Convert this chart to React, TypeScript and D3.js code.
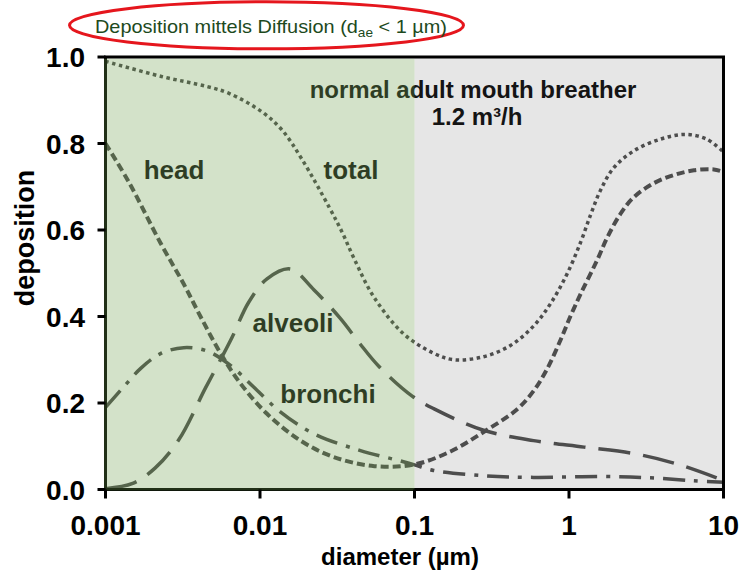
import React, { useEffect, useRef } from 'react';
import * as d3 from 'd3';

// diameters in µm, deposition fractions
const totalD = [0.001, 0.0023, 0.0045, 0.0063, 0.0103, 0.0139, 0.0188, 0.028, 0.034, 0.0405, 0.0546, 0.085, 0.133, 0.18, 0.28, 0.418, 0.59, 0.76, 0.97, 1.19, 1.38, 1.6, 1.95, 2.63, 3.9, 5.68, 7.8, 10];
const totalV = [0.99, 0.955, 0.932, 0.916, 0.873, 0.831, 0.762, 0.653, 0.595, 0.535, 0.445, 0.36, 0.315, 0.3, 0.307, 0.333, 0.378, 0.43, 0.498, 0.572, 0.635, 0.692, 0.744, 0.783, 0.81, 0.821, 0.81, 0.78];

const headD = [0.001, 0.00142, 0.00227, 0.00321, 0.00412, 0.00555, 0.00748, 0.0111, 0.0183, 0.03, 0.055, 0.1, 0.171, 0.28, 0.46, 0.59, 0.72, 0.88, 1.02, 1.2, 1.52, 1.77, 2.15, 2.63, 3.53, 4.77, 6.43, 8.65, 10];
const headV = [0.8, 0.71, 0.57, 0.475, 0.4, 0.315, 0.245, 0.175, 0.113, 0.075, 0.054, 0.058, 0.088, 0.133, 0.185, 0.228, 0.278, 0.345, 0.4, 0.455, 0.53, 0.583, 0.637, 0.676, 0.708, 0.727, 0.738, 0.74, 0.734];

const alveoliD = [0.001, 0.0015, 0.0021, 0.00298, 0.00444, 0.00555, 0.0066, 0.00845, 0.0111, 0.0157, 0.0223, 0.0332, 0.0437, 0.0587, 0.0966, 0.133, 0.28, 0.59, 1.25, 2.63, 5.0, 10];
const alveoliV = [0.002, 0.014, 0.05, 0.115, 0.235, 0.3, 0.352, 0.433, 0.487, 0.51, 0.462, 0.395, 0.34, 0.285, 0.216, 0.187, 0.137, 0.113, 0.098, 0.083, 0.059, 0.021];

const bronchiD = [0.001, 0.00131, 0.00169, 0.00227, 0.00321, 0.00455, 0.00644, 0.0091, 0.0136, 0.0223, 0.0447, 0.081, 0.1, 0.133, 0.28, 0.59, 1.6, 3.37, 6.4, 10];
const bronchiV = [0.19, 0.237, 0.28, 0.314, 0.328, 0.32, 0.287, 0.237, 0.179, 0.129, 0.09, 0.066, 0.057, 0.044, 0.032, 0.028, 0.03, 0.027, 0.02, 0.017];

const xTicks = [0.001, 0.01, 0.1, 1, 10];
const xTickLabels = ['0.001', '0.01', '0.1', '1', '10'];
const yTicks = [0, 0.2, 0.4, 0.6, 0.8, 1.0];
const yTickLabels = ['0.0', '0.2', '0.4', '0.6', '0.8', '1.0'];

const FONT = "'Liberation Sans', Arial, sans-serif";

const App = () => {
  const svgRef = useRef<SVGSVGElement>(null);

  useEffect(() => {
    const width = 744;
    const height = 576;
    const left = 105.5, right = 723.5, top = 57, bottom = 489.5;

    const svg = d3.select(svgRef.current);
    svg.selectAll('*').remove();
    svg.attr('width', width).attr('height', height);

    svg.append('rect').attr('width', width).attr('height', height).attr('fill', '#fff');

    const x = d3.scaleLog().domain([0.001, 10]).range([left, right]);
    const y = d3.scaleLinear().domain([0, 1]).range([bottom, top]);

    // grey background for the right part
    svg.append('rect')
      .attr('x', x(0.1)).attr('y', top)
      .attr('width', right - x(0.1)).attr('height', bottom - top)
      .attr('fill', '#e6e6e6');

    const line = d3.line<[number, number]>()
      .x(d => x(d[0]))
      .y(d => y(d[1]))
      .curve(d3.curveCatmullRom.alpha(0.5));

    const series = [
      { d: totalD, v: totalV, dash: '3.5,3.5', w: 3.5 },
      { d: headD, v: headV, dash: '8,4', w: 4 },
      { d: alveoliD, v: alveoliV, dash: '32,13', w: 3.5 },
      { d: bronchiD, v: bronchiV, dash: '22,9,4,9', w: 3.5 },
    ];

    series.forEach(s => {
      svg.append('path')
        .attr('d', line(s.d.map((dd, i) => [dd, s.v[i]] as [number, number])))
        .attr('fill', 'none')
        .attr('stroke', '#4d4d4d')
        .attr('stroke-width', s.w)
        .attr('stroke-dasharray', s.dash);
    });

    // labels inside the plot
    const labels = [
      { t: 'normal adult mouth breather', cx: 473, by: 98, fs: 24 },
      { t: '1.2 m³/h', cx: 477, by: 125, fs: 24 },
      { t: 'head', cx: 174, by: 179, fs: 26 },
      { t: 'total', cx: 351, by: 179, fs: 26 },
      { t: 'alveoli', cx: 293, by: 332, fs: 26 },
      { t: 'bronchi', cx: 328, by: 403, fs: 26 },
    ];
    labels.forEach(l => {
      svg.append('text')
        .attr('x', l.cx).attr('y', l.by)
        .attr('text-anchor', 'middle')
        .style('font-family', FONT)
        .style('font-weight', 'bold')
        .style('font-size', `${l.fs}px`)
        .style('fill', '#141414')
        .text(l.t);
    });

    // left and bottom axis lines (covered by the green overlay)
    svg.append('line').attr('x1', left).attr('x2', left).attr('y1', top).attr('y2', bottom + 1.5)
      .attr('stroke', '#000').attr('stroke-width', 3);
    svg.append('line').attr('x1', left - 1.5).attr('x2', right + 1.5).attr('y1', bottom).attr('y2', bottom)
      .attr('stroke', '#000').attr('stroke-width', 3);

    // green translucent overlay marking the diffusion range
    svg.append('rect')
      .attr('x', left - 1.5).attr('y', top + 1.5)
      .attr('width', x(0.1) - left + 1.5).attr('height', bottom - top - 0.5)
      .attr('fill', 'rgb(110,160,75)')
      .attr('fill-opacity', 0.3);

    // top and right frame
    svg.append('line').attr('x1', left - 1.5).attr('x2', right + 1.5).attr('y1', top).attr('y2', top)
      .attr('stroke', '#000').attr('stroke-width', 3);
    svg.append('line').attr('x1', right).attr('x2', right).attr('y1', top).attr('y2', bottom)
      .attr('stroke', '#000').attr('stroke-width', 3);

    // x ticks and labels
    xTicks.forEach((t, i) => {
      svg.append('line').attr('x1', x(t)).attr('x2', x(t)).attr('y1', bottom).attr('y2', bottom + 9)
        .attr('stroke', '#000').attr('stroke-width', 3);
      svg.append('text')
        .attr('x', x(t)).attr('y', 535)
        .attr('text-anchor', 'middle')
        .style('font-family', FONT).style('font-weight', 'bold').style('font-size', '28px')
        .style('fill', '#000')
        .text(xTickLabels[i]);
    });

    // y ticks and labels
    yTicks.forEach((t, i) => {
      svg.append('line').attr('x1', left - 8).attr('x2', left).attr('y1', y(t)).attr('y2', y(t))
        .attr('stroke', '#000').attr('stroke-width', 3);
      svg.append('text')
        .attr('x', 85).attr('y', y(t))
        .attr('dy', '0.36em')
        .attr('text-anchor', 'end')
        .style('font-family', FONT).style('font-weight', 'bold').style('font-size', '28px')
        .style('fill', '#000')
        .text(yTickLabels[i]);
    });

    // axis titles
    svg.append('text')
      .attr('x', 400).attr('y', 565)
      .attr('text-anchor', 'middle')
      .style('font-family', FONT).style('font-weight', 'bold').style('font-size', '24px')
      .text('diameter (µm)');

    svg.append('text')
      .attr('transform', 'translate(34,238) rotate(-90)')
      .attr('text-anchor', 'middle')
      .style('font-family', FONT).style('font-weight', 'bold').style('font-size', '27px')
      .text('deposition');

    // title with red ellipse
    svg.append('ellipse')
      .attr('cx', 266.5).attr('cy', 25.3).attr('rx', 197).attr('ry', 23.5)
      .attr('fill', 'none').attr('stroke', '#e5161d').attr('stroke-width', 3);

    const title = svg.append('text')
      .attr('x', 95).attr('y', 33)
      .attr('textLength', 352)
      .attr('lengthAdjust', 'spacingAndGlyphs')
      .style('font-family', FONT).style('font-size', '19px')
      .style('fill', '#1d4a1d');
    title.append('tspan').text('Deposition  mittels Diffusion  (d');
    title.append('tspan').attr('dy', 4).style('font-size', '13px').text('ae');
    title.append('tspan').attr('dy', -4).text(' < 1 µm)');
  }, []);

  return (
    <svg ref={svgRef} style={{ position: 'absolute', left: 0, top: 0, display: 'block' }}></svg>
  );
};

export default App;
